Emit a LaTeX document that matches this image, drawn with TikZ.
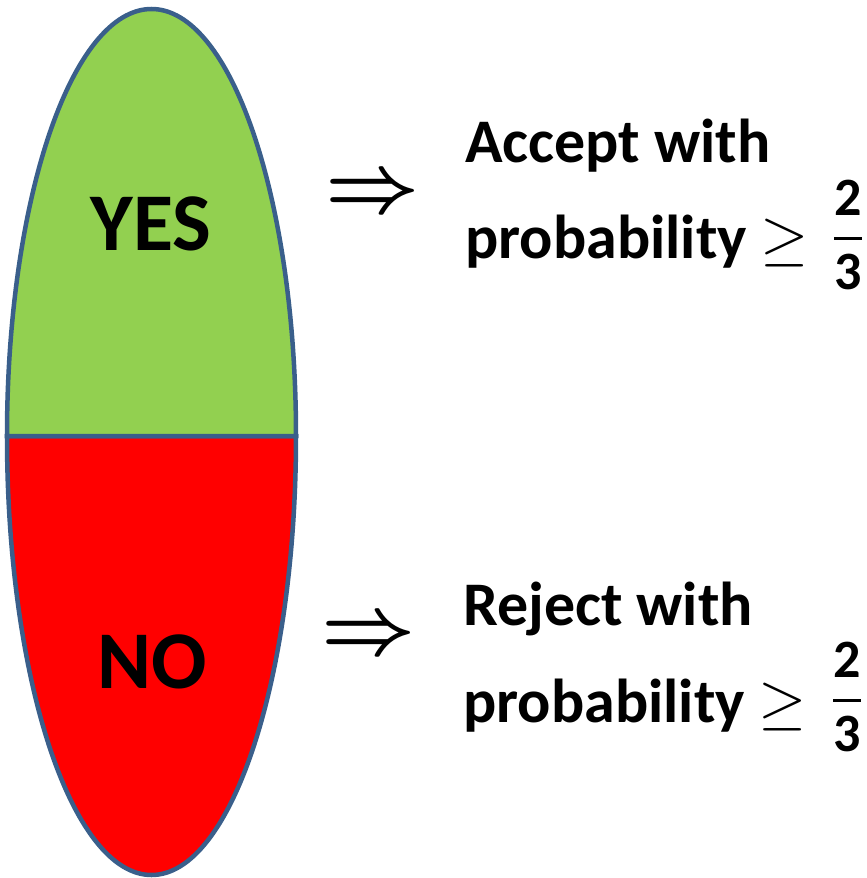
\RequirePackage{fix-cm}
\documentclass[tikz,border=0pt]{standalone}
\usepackage{amsmath}
\usepackage{fontspec}
\setmainfont{Carlito}
\definecolor{edge}{HTML}{3A5F8B}
\definecolor{yesgreen}{HTML}{92D050}
\definecolor{nored}{HTML}{FF0000}
\tikzset{
  half/.style={draw=edge,line width=4.5pt},
  big/.style={font=\fontsize{82}{90}\selectfont\bfseries,inner sep=0pt,anchor=base},
  arr/.style={font=\fontsize{82}{90}\selectfont\boldmath,inner sep=0pt,anchor=base},
  txt/.style={font=\fontsize{62}{74}\selectfont\bfseries,inner sep=0pt,anchor=base west},
  frac/.style={font=\fontsize{54}{60}\selectfont,inner sep=0pt,anchor=base}
}
\begin{document}
\begin{tikzpicture}[x=1pt,y=-1pt]
\useasboundingbox (0,0) rectangle (867,878);
\fill[nored,half] (7,436) arc[start angle=180,end angle=0,x radius=144.5,y radius=439] -- cycle;
\fill[yesgreen,half] (7,436) arc[start angle=180,end angle=360,x radius=144.5,y radius=427] -- cycle;
\node[big] (yes) at (151,250) {YES};
\node[big] (no) at (152,688) {NO};
\node[arr] (a1) at (373,211) {$\Rightarrow$};
\node[arr] (a2) at (369,653) {$\Rightarrow$};
\node[txt] (t1) at (465,162) {Accept with};
\node[txt] (p1) at (465,258) {probability $\geq$};
\node[frac] (f1) at (848,252) {$\genfrac{}{}{3pt}{0}{\textbf{2}}{\textbf{3}}$};
\node[txt] (t2) at (463,625) {Reject with};
\node[txt] (p2) at (463,722) {probability $\geq$};
\node[frac] (f2) at (847,714) {$\genfrac{}{}{3pt}{0}{\textbf{2}}{\textbf{3}}$};
\end{tikzpicture}
\end{document}
